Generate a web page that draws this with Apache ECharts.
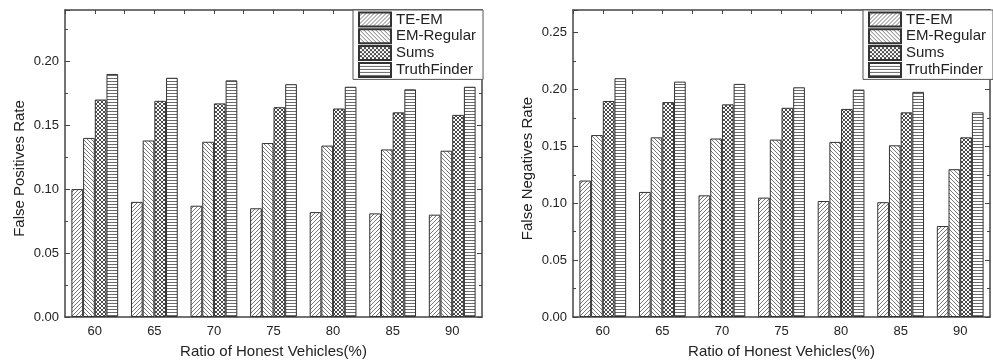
<!DOCTYPE html>
<html><head><meta charset="utf-8">
<script src="https://cdn.jsdelivr.net/npm/echarts@6/dist/echarts.min.js"></script>
<style>html,body{margin:0;padding:0;background:#fff}#c{width:993px;height:364px}</style>
</head><body><div id="c"></div>
<script>
const categories = ['60','65','70','75','80','85','90'];
const seriesNames = ['TE-EM','EM-Regular','Sums','TruthFinder'];
const fpTEEM = [0.100,0.090,0.087,0.085,0.082,0.081,0.080];
const fpEMRegular = [0.140,0.138,0.137,0.136,0.134,0.131,0.130];
const fpSums = [0.170,0.169,0.167,0.164,0.163,0.160,0.158];
const fpTruthFinder = [0.190,0.187,0.185,0.182,0.180,0.178,0.180];
const fnTEEM = [0.120,0.110,0.107,0.105,0.102,0.101,0.080];
const fnEMRegular = [0.160,0.158,0.157,0.156,0.154,0.151,0.130];
const fnSums = [0.190,0.189,0.187,0.184,0.183,0.180,0.158];
const fnTruthFinder = [0.210,0.207,0.205,0.202,0.200,0.198,0.180];
const xTitle = 'Ratio of Honest Vehicles(%)';
const yTitles = ['False Positives Rate','False Negatives Rate'];
const yMax = [0.24, 0.27];

function makePattern(kind){
  const c = document.createElement('canvas');
  const s = kind==='h' ? 3 : 4;
  c.width = s; c.height = s;
  const ctx = c.getContext('2d');
  ctx.fillStyle = '#fff'; ctx.fillRect(0,0,s,s);
  ctx.strokeStyle = kind==='x' ? '#4a4a4a' : (kind==='h' ? '#6a6a6a' : '#777');
  ctx.lineWidth = 1;
  ctx.beginPath();
  if(kind==='f'){ // forward slash
    ctx.moveTo(-1,s+1); ctx.lineTo(s+1,-1);
    ctx.moveTo(-1,1); ctx.lineTo(1,-1);
    ctx.moveTo(s-1,s+1); ctx.lineTo(s+1,s-1);
  } else if(kind==='b'){ // backslash
    ctx.moveTo(-1,-1); ctx.lineTo(s+1,s+1);
    ctx.moveTo(-1,s-1); ctx.lineTo(1,s+1);
    ctx.moveTo(s-1,-1); ctx.lineTo(s+1,1);
  } else if(kind==='x'){
    ctx.moveTo(-1,-1); ctx.lineTo(s+1,s+1);
    ctx.moveTo(-1,s+1); ctx.lineTo(s+1,-1);
  } else {
    ctx.moveTo(0,0.5); ctx.lineTo(s,0.5);
  }
  ctx.stroke();
  return {image:c, repeat:'repeat'};
}
const patterns = [makePattern('f'), makePattern('b'), makePattern('x'), makePattern('h')];
const data = [[fpTEEM,fpEMRegular,fpSums,fpTruthFinder],[fnTEEM,fnEMRegular,fnSums,fnTruthFinder]];

const font = 'Liberation Sans, Arial, sans-serif';
const axisColor = '#444';
const textColor = '#222';
const grids = [{left:65, top:10, width:417, height:308},{left:573, top:10, width:417, height:308}];
const xAxis = [], yAxis = [], series = [];
const isMajor = v => Math.abs(v/0.05 - Math.round(v/0.05)) < 1e-6;
for(let g=0; g<2; g++){
  xAxis.push({type:'category', gridIndex:g, data:categories, position:'bottom',
    axisLine:{lineStyle:{color:axisColor,width:1.5}}, axisTick:{show:false},
    axisLabel:{fontSize:13, color:textColor, fontFamily:font, margin:8},
    name:xTitle, nameLocation:'middle', nameGap:27,
    nameTextStyle:{fontSize:15, color:textColor, fontFamily:font}});
  xAxis.push({type:'value', gridIndex:g, position:'top', min:0, max:7, interval:0.5,
    axisLine:{show:true, onZero:false, lineStyle:{color:axisColor,width:1.5}},
    axisTick:{show:true, inside:true, length:4, lineStyle:{color:axisColor}},
    axisLabel:{show:false}, splitLine:{show:false}});
  const M = yMax[g];
  yAxis.push({type:'value', gridIndex:g, position:'left', min:0, max:M, interval:0.05,
    axisLine:{show:true, onZero:false, lineStyle:{color:axisColor,width:1.5}},
    axisTick:{show:true, inside:true, length:5, lineStyle:{color:axisColor}},
    axisLabel:{fontSize:13, color:textColor, fontFamily:font, margin:6,
      formatter: v => isMajor(v) ? v.toFixed(2) : ''},
    splitLine:{show:false},
    name:yTitles[g], nameLocation:'middle', nameGap:38,
    nameTextStyle:{fontSize:15, color:textColor, fontFamily:font, padding:[0,10,0,0]}});
  yAxis.push({type:'value', gridIndex:g, position:'left', min:0, max:M, interval:0.025,
    axisLine:{show:false}, axisTick:{show:true, inside:true, length:3, lineStyle:{color:axisColor}},
    axisLabel:{show:false}, splitLine:{show:false}});
  yAxis.push({type:'value', gridIndex:g, position:'right', min:0, max:M, interval:0.05,
    axisLine:{show:true, onZero:false, lineStyle:{color:axisColor,width:1.5}},
    axisTick:{show:true, inside:true, length:5, lineStyle:{color:axisColor}},
    axisLabel:{show:false}, splitLine:{show:false}});
  yAxis.push({type:'value', gridIndex:g, position:'right', min:0, max:M, interval:0.025,
    axisLine:{show:false}, axisTick:{show:true, inside:true, length:3, lineStyle:{color:axisColor}},
    axisLabel:{show:false}, splitLine:{show:false}});
  for(let s=0; s<4; s++){
    series.push({type:'bar', name:seriesNames[s], xAxisIndex:g*2, yAxisIndex:g*4,
      data:data[g][s], barGap:'0%', barCategoryGap:'21.5%',
      itemStyle:{color:patterns[s], borderColor:'#333', borderWidth:1},
      emphasis:{disabled:true}, animation:false});
  }
}
const legendBase = {orient:'vertical', top:10, itemWidth:32, itemHeight:14, itemGap:0.8,
  padding:[1.5,7,1.5,5], borderColor:'#555', borderWidth:1, backgroundColor:'#fff',
  icon:'rect', selectedMode:false,
  textStyle:{fontSize:15, color:textColor, fontFamily:font}, data:seriesNames};
const chart = echarts.init(document.getElementById('c'), null, {renderer:'canvas'});
chart.setOption({
  animation:false,
  grid:grids, xAxis:xAxis, yAxis:yAxis, series:series,
  legend:[Object.assign({left:353}, legendBase), Object.assign({left:863}, legendBase)]
});
</script></body></html>
